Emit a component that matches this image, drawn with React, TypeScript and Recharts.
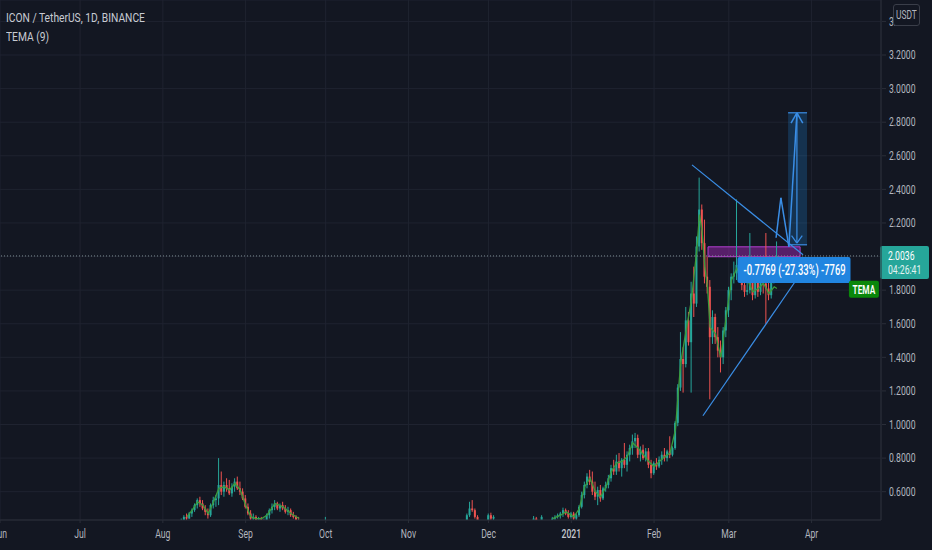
import React from 'react';
import {
  ComposedChart, Bar, Line, XAxis, YAxis, CartesianGrid,
  ReferenceLine, ReferenceArea, ReferenceDot,
} from 'recharts';

// day index: 0 = 2020-06-01
const days = [
  68, 69, 70, 71, 72, 73, 74, 75, 76, 77, 78, 79, 80, 81, 82, 83, 84, 85, 86, 87, 88, 89, 90, 91, 92, 93, 94, 95, 96, 97, 98, 99, 100, 101, 102, 103, 104, 105, 106, 107, 108, 109, 110, 111, 112, 113,
  122, 175, 176, 177, 178, 179, 183, 184, 185, 200, 201, 203,
  207, 208, 209, 210, 211, 212, 213, 214, 215, 216, 217, 218, 219, 220, 221, 222, 223, 224, 225, 226, 227, 228, 229, 230, 231, 232, 233, 234, 235, 236, 237, 238, 239, 240, 241, 242, 243, 244, 245, 246, 247, 248, 249, 250,
  251, 252, 253, 254, 255, 256, 257, 258, 259, 260, 261, 262, 263, 264, 265, 266, 267, 268, 269, 270, 271, 272, 273, 274, 275, 276, 277, 278, 279, 280, 281, 282, 283, 284, 285, 286, 287, 288, 289, 290, 291,
];
const opens = [
  0.41, 0.43, 0.45, 0.44, 0.47, 0.49, 0.52, 0.55, 0.53, 0.50, 0.48, 0.46, 0.52, 0.55, 0.56, 0.64, 0.60, 0.64, 0.62, 0.59, 0.63, 0.66, 0.62, 0.60, 0.56, 0.51, 0.47, 0.44, 0.45, 0.42, 0.44, 0.41, 0.43, 0.46, 0.49, 0.51, 0.53, 0.50, 0.52, 0.50, 0.48, 0.49, 0.46, 0.45, 0.43, 0.42,
  0.41, 0.42, 0.46, 0.50, 0.49, 0.45, 0.43, 0.46, 0.44, 0.42, 0.44, 0.42,
  0.42, 0.44, 0.45, 0.46, 0.47, 0.49, 0.47, 0.45, 0.47, 0.44, 0.46, 0.51, 0.58, 0.64, 0.69, 0.66, 0.60, 0.57, 0.61, 0.56, 0.62, 0.64, 0.68, 0.74, 0.72, 0.78, 0.74, 0.79, 0.76, 0.82, 0.86, 0.90, 0.92, 0.82, 0.85, 0.80, 0.84, 0.76, 0.71, 0.77, 0.75, 0.79, 0.82, 0.80,
  0.84, 0.82, 0.86, 1.01, 1.22, 1.39, 1.36, 1.62, 1.49, 1.78, 1.72, 2.06, 2.28, 2.08, 1.88, 1.82, 1.52, 1.64, 1.52, 1.44, 1.40, 1.56, 1.68, 1.80, 1.88, 1.90, 1.95, 1.89, 1.83, 1.79, 1.80, 1.90, 1.77, 1.88, 1.79, 1.86, 1.84, 1.81, 1.77, 1.89, 1.90,
];
const highs = [
  0.44, 0.46, 0.47, 0.48, 0.50, 0.53, 0.56, 0.57, 0.55, 0.52, 0.50, 0.53, 0.57, 0.58, 0.80, 0.72, 0.66, 0.68, 0.67, 0.65, 0.68, 0.69, 0.66, 0.62, 0.58, 0.53, 0.49, 0.47, 0.46, 0.45, 0.45, 0.44, 0.47, 0.50, 0.53, 0.55, 0.54, 0.53, 0.54, 0.52, 0.51, 0.50, 0.48, 0.46, 0.45, 0.43,
  0.45, 0.47, 0.54, 0.55, 0.50, 0.46, 0.47, 0.475, 0.46, 0.455, 0.45, 0.46,
  0.45, 0.46, 0.47, 0.48, 0.505, 0.50, 0.49, 0.48, 0.48, 0.47, 0.52, 0.60, 0.66, 0.71, 0.73, 0.72, 0.66, 0.63, 0.64, 0.63, 0.66, 0.70, 0.76, 0.79, 0.82, 0.83, 0.80, 0.89, 0.84, 0.88, 0.94, 0.95, 0.94, 0.87, 0.88, 0.86, 0.86, 0.79, 0.78, 0.80, 0.81, 0.84, 0.86, 0.85,
  0.93, 0.87, 1.02, 1.24, 1.55, 1.46, 1.70, 1.67, 1.85, 1.94, 2.12, 2.47, 2.31, 2.22, 2.00, 1.86, 1.68, 1.66, 1.58, 1.50, 1.58, 1.70, 1.82, 1.90, 1.97, 2.34, 1.98, 1.99, 1.90, 1.93, 2.14, 1.92, 1.92, 1.93, 1.90, 1.95, 2.14, 1.86, 1.92, 1.95, 2.09,
];
const lows = [
  0.40, 0.42, 0.43, 0.44, 0.45, 0.48, 0.50, 0.51, 0.49, 0.46, 0.44, 0.45, 0.50, 0.51, 0.52, 0.58, 0.57, 0.60, 0.58, 0.57, 0.60, 0.61, 0.58, 0.55, 0.50, 0.46, 0.43, 0.42, 0.41, 0.41, 0.40, 0.40, 0.42, 0.44, 0.47, 0.49, 0.49, 0.48, 0.49, 0.47, 0.46, 0.45, 0.44, 0.42, 0.41, 0.40,
  0.40, 0.41, 0.45, 0.48, 0.44, 0.42, 0.42, 0.43, 0.42, 0.41, 0.42, 0.41,
  0.41, 0.43, 0.44, 0.44, 0.45, 0.46, 0.44, 0.44, 0.43, 0.43, 0.45, 0.50, 0.56, 0.62, 0.64, 0.58, 0.55, 0.52, 0.54, 0.55, 0.60, 0.62, 0.66, 0.70, 0.70, 0.72, 0.69, 0.74, 0.72, 0.78, 0.82, 0.86, 0.80, 0.78, 0.79, 0.78, 0.74, 0.68, 0.70, 0.73, 0.74, 0.76, 0.78, 0.78,
  0.80, 0.81, 0.85, 0.99, 1.20, 1.19, 1.34, 1.47, 1.19, 1.64, 1.70, 2.03, 2.04, 1.84, 1.78, 1.15, 1.48, 1.48, 1.40, 1.31, 1.36, 1.52, 1.64, 1.74, 1.84, 1.86, 1.85, 1.80, 1.76, 1.77, 1.78, 1.74, 1.75, 1.76, 1.77, 1.78, 1.60, 1.74, 1.75, 1.84, 1.86,
];
const closes = [
  0.43, 0.45, 0.44, 0.47, 0.49, 0.52, 0.55, 0.53, 0.50, 0.48, 0.46, 0.52, 0.55, 0.56, 0.64, 0.60, 0.64, 0.62, 0.59, 0.63, 0.66, 0.62, 0.60, 0.56, 0.51, 0.47, 0.44, 0.45, 0.42, 0.44, 0.41, 0.43, 0.46, 0.49, 0.51, 0.53, 0.50, 0.52, 0.50, 0.48, 0.49, 0.46, 0.45, 0.43, 0.42, 0.41,
  0.42, 0.46, 0.50, 0.49, 0.45, 0.43, 0.46, 0.44, 0.45, 0.44, 0.43, 0.45,
  0.44, 0.45, 0.46, 0.47, 0.49, 0.47, 0.45, 0.47, 0.44, 0.46, 0.51, 0.58, 0.64, 0.69, 0.66, 0.60, 0.57, 0.61, 0.56, 0.62, 0.64, 0.68, 0.74, 0.72, 0.78, 0.74, 0.79, 0.76, 0.82, 0.86, 0.90, 0.92, 0.82, 0.85, 0.80, 0.84, 0.76, 0.71, 0.77, 0.75, 0.79, 0.82, 0.80, 0.84,
  0.82, 0.86, 1.01, 1.22, 1.39, 1.36, 1.62, 1.49, 1.78, 1.72, 2.06, 2.28, 2.08, 1.88, 1.82, 1.52, 1.64, 1.52, 1.44, 1.40, 1.56, 1.68, 1.80, 1.88, 1.90, 1.95, 1.89, 1.83, 1.79, 1.80, 1.90, 1.77, 1.88, 1.79, 1.86, 1.84, 1.81, 1.77, 1.89, 1.90, 2.0036,
];

// TEMA(9)
const temaADays = [70, 72, 74, 76, 78, 80, 82, 84, 86, 88, 90, 92, 94, 96, 98, 100, 103, 106, 109, 112];
const temaAVals = [0.45, 0.49, 0.54, 0.52, 0.47, 0.54, 0.62, 0.63, 0.61, 0.65, 0.61, 0.52, 0.45, 0.44, 0.44, 0.46, 0.53, 0.51, 0.47, 0.44];
const temaCDays = [207, 210, 212, 215, 217, 219, 221, 223, 225, 227, 229, 231, 233, 235, 237, 239, 241, 243, 245, 247, 249, 251, 253, 254, 255, 257, 259, 261, 262, 263, 264, 265, 266, 268, 270, 272, 274, 276, 278, 280, 282, 284, 286, 288, 290, 291];
const temaCVals = [0.44, 0.46, 0.48, 0.45, 0.50, 0.63, 0.68, 0.60, 0.57, 0.63, 0.72, 0.77, 0.78, 0.81, 0.89, 0.86, 0.82, 0.78, 0.75, 0.78, 0.81, 0.83, 0.97, 1.18, 1.37, 1.56, 1.74, 2.04, 2.25, 2.15, 1.94, 1.82, 1.58, 1.54, 1.40, 1.64, 1.86, 1.93, 1.86, 1.86, 1.79, 1.81, 1.84, 1.78, 1.82, 1.81];

const monthTicks = [0, 30, 61, 92, 122, 153, 183, 214, 245, 273, 304];
const monthLabels = ['Jun', 'Jul', 'Aug', 'Sep', 'Oct', 'Nov', 'Dec', '2021', 'Feb', 'Mar', 'Apr'];
const priceTicks = [0.6, 0.8, 1.0, 1.2, 1.4, 1.6, 1.8, 2.0, 2.2, 2.4, 2.6, 2.8, 3.0, 3.2, 3.4];
const lastPrice = 2.0036;
const lastTema = 1.805;

// drawings (day, price)
const upperTrend = [{ x: 259.2, y: 2.546 }, { x: 300.8, y: 2.011 }];
const lowerTrend = [{ x: 263.3, y: 1.052 }, { x: 297.8, y: 1.85 }];
const pathDays = [290.7, 292.5, 295.5, 298.5];
const pathPrices = [2.112, 2.35, 2.058, 2.855];
const purpleBox = { x1: 265.2, x2: 299.7, y1: 1.999, y2: 2.058 };
const measureBox = { x1: 295.2, x2: 302.3, y1: 2.07, y2: 2.856 };
const measureText = '-0.7769 (-27.33%) -7769';

const GREEN = '#26a69a';
const RED = '#ef5350';
const BLUE = '#3a8ee6';
const BG = '#131722';
const GRID = '#1f2330';
const TXT = '#b2b5be';
const FONT = "Roboto, 'Noto Sans', sans-serif";
const SX = 0.72; // horizontal squeeze of the reference's lettering

const rowsMap = new Map<number, any>();
days.forEach((d, i) => {
  rowsMap.set(d, { day: d, open: opens[i], high: highs[i], low: lows[i], close: closes[i] });
});
temaADays.forEach((d, i) => { const r = rowsMap.get(d) || { day: d }; r.temaA = temaAVals[i]; rowsMap.set(d, r); });
temaCDays.forEach((d, i) => { const r = rowsMap.get(d) || { day: d }; r.temaC = temaCVals[i]; rowsMap.set(d, r); });
const data = Array.from(rowsMap.values()).sort((a, b) => a.day - b.day);

const SqText = ({ x, y, children, anchor = 'start', size = 12, fill = TXT, weight = 400, sx = SX }: any) => (
  <text transform={`translate(${x},${y}) scale(${sx},1)`} textAnchor={anchor} fontSize={size} fill={fill} fontWeight={weight} fontFamily={FONT}>
    {children}
  </text>
);

const CandleShape = (props: any) => {
  const { x, y, width, height, payload } = props;
  if (!payload || payload.high == null) return null;
  const { open, close, high, low } = payload;
  const top = Math.min(y, y + height);
  const h = Math.abs(height);
  const ppu = h / (high - low || 1);
  const cx = x + width / 2;
  const bodyTop = top + (high - Math.max(open, close)) * ppu;
  const bodyH = Math.max(1, Math.abs(open - close) * ppu);
  const color = close >= open ? GREEN : RED;
  return (
    <g>
      <line x1={cx} x2={cx} y1={top} y2={top + h} stroke={color} strokeWidth={1} />
      <rect x={x} y={bodyTop} width={width} height={bodyH} fill={color} />
    </g>
  );
};

const PriceTag = (p: any) => {
  const vb = p.viewBox;
  if (!vb) return null;
  const x0 = vb.x + vb.width;
  const yy = vb.y;
  return (
    <g>
      <rect x={x0 - 1} y={yy - 10} width={49} height={33} fill={GREEN} rx={2} />
      <SqText x={x0 + 7} y={yy + 4} size={12} fill="#ffffff">{lastPrice.toFixed(4)}</SqText>
      <SqText x={x0 + 7} y={yy + 18} size={12} fill="#e3f4f2">04:26:41</SqText>
    </g>
  );
};

const TemaTag = (p: any) => {
  const { cx, cy } = p;
  return (
    <g>
      <rect x={cx - 15} y={cy - 8.5} width={30} height={17} fill="#0a870a" rx={2} />
      <SqText x={cx} y={cy + 4.5} anchor="middle" size={13} weight={600} fill="#ffffff" sx={0.64}>TEMA</SqText>
    </g>
  );
};

const MeasureTag = (p: any) => {
  const { cx, cy } = p;
  return (
    <g>
      <rect x={cx - 57} y={cy - 13} width={113} height={26} fill="#2185e0" rx={2} />
      <SqText x={cx} y={cy + 5} anchor="middle" size={14} weight={500} fill="#ffffff" sx={0.67}>{measureText}</SqText>
    </g>
  );
};

const YTick = (p: any) => {
  const { x, y, payload } = p;
  if (Math.abs(payload.value - 2.0) < 1e-6) return null;
  return (
    <g>
      <line x1={x - 7} x2={x - 3} y1={y} y2={y} stroke="#2a2e39" />
      <SqText x={x} y={y + 4.3} size={12}>{payload.value.toFixed(4)}</SqText>
    </g>
  );
};

const XTick = (p: any) => {
  const { x, y, payload } = p;
  const label = monthLabels[monthTicks.indexOf(payload.value)] ?? '';
  return (
    <SqText x={x} y={y + 11} anchor="middle" size={12} fill={label === '2021' ? '#c3c6ce' : TXT} weight={label === '2021' ? 500 : 400}>{label}</SqText>
  );
};

export default function App() {
  const segs: any[] = [];
  for (let i = 0; i < pathDays.length - 1; i++) {
    segs.push([{ x: pathDays[i], y: pathPrices[i] }, { x: pathDays[i + 1], y: pathPrices[i + 1] }]);
  }
  const topX = pathDays[pathDays.length - 1];
  const topY = pathPrices[pathPrices.length - 1];
  const arrowTop = [
    [{ x: topX, y: topY }, { x: topX - 2.2, y: topY - 0.06 }],
    [{ x: topX, y: topY }, { x: topX + 2.2, y: topY - 0.06 }],
  ];
  const arrowBottom = [
    [{ x: topX, y: measureBox.y1 + 0.01 }, { x: topX - 2, y: measureBox.y1 + 0.055 }],
    [{ x: topX, y: measureBox.y1 + 0.01 }, { x: topX + 2, y: measureBox.y1 + 0.055 }],
    [{ x: topX, y: measureBox.y1 + 0.01 }, { x: topX, y: topY }],
  ];
  const measureLines = [
    [{ x: measureBox.x1, y: measureBox.y2 }, { x: measureBox.x2, y: measureBox.y2 }],
    [{ x: measureBox.x1, y: measureBox.y1 }, { x: measureBox.x2, y: measureBox.y1 }],
  ];

  return (
    <div style={{ position: 'fixed', left: 0, top: 0, width: 932, height: 550, background: BG, overflow: 'hidden', fontFamily: FONT }}>
      <ComposedChart width={932} height={550} data={data} margin={{ top: 0, right: 0, bottom: 0, left: 0 }}>
        <CartesianGrid stroke={GRID} />
        <XAxis
          dataKey="day"
          type="number"
          domain={[0, 330]}
          allowDataOverflow
          ticks={monthTicks}
          interval={0}
          height={30}
          tick={<XTick />}
          tickSize={3}
          tickMargin={4}
          tickLine={{ stroke: '#2a2e39' }}
          axisLine={{ stroke: '#2a2e39' }}
        />
        <YAxis
          orientation="right"
          type="number"
          domain={[0.4315, 3.5275]}
          allowDataOverflow
          ticks={priceTicks}
          interval={0}
          width={51}
          tick={<YTick />}
          tickLine={false}
          axisLine={{ stroke: '#2a2e39' }}
        />
        <ReferenceLine y={lastPrice} stroke="#7d8c92" strokeDasharray="1 2" label={<PriceTag />} />
        <Bar dataKey={(r: any) => (r.high != null ? [r.low, r.high] : null)} barSize={2} shape={<CandleShape />} isAnimationActive={false} />
        <Line dataKey="temaA" stroke="#3c9b3c" strokeWidth={1.3} dot={false} activeDot={false} connectNulls isAnimationActive={false} />
        <Line dataKey="temaC" stroke="#3c9b3c" strokeWidth={1.3} dot={false} activeDot={false} connectNulls isAnimationActive={false} />
        <ReferenceArea {...purpleBox} fill="#9c27b0" fillOpacity={0.5} stroke="#b43fd0" strokeWidth={1} />
        <ReferenceArea {...measureBox} fill="#2196f3" fillOpacity={0.22} stroke="none" />
        {measureLines.map((s, i) => <ReferenceLine key={'m' + i} segment={s} stroke={BLUE} strokeWidth={1.2} />)}
        <ReferenceLine segment={upperTrend} stroke={BLUE} strokeWidth={1.2} />
        <ReferenceLine segment={lowerTrend} stroke={BLUE} strokeWidth={1.2} />
        {segs.map((s, i) => <ReferenceLine key={'p' + i} segment={s} stroke={BLUE} strokeWidth={1.5} />)}
        {arrowTop.map((s, i) => <ReferenceLine key={'a' + i} segment={s} stroke={BLUE} strokeWidth={1.5} />)}
        {arrowBottom.map((s, i) => <ReferenceLine key={'b' + i} segment={s} stroke={BLUE} strokeWidth={1.2} />)}
        <ReferenceDot x={297.6} y={1.92} r={0} shape={<MeasureTag />} />
        <ReferenceDot x={323.6} y={lastTema} r={0} shape={<TemaTag />} />
      </ComposedChart>
      <div style={{ position: 'absolute', left: 6, top: 9, color: '#c8cbd3', fontSize: 13.5, whiteSpace: 'nowrap', transform: 'scaleX(0.76)', transformOrigin: 'left top' }}>ICON / TetherUS, 1D, BINANCE</div>
      <div style={{ position: 'absolute', left: 6, top: 28, color: '#c8cbd3', fontSize: 13.5, whiteSpace: 'nowrap', transform: 'scaleX(0.76)', transformOrigin: 'left top' }}>TEMA (9)</div>
      <div style={{ position: 'absolute', left: 893, top: 4, width: 25, height: 20, border: '1px solid #3a3e49', borderRadius: 3, background: BG }}>
        <div style={{ color: TXT, fontSize: 12, lineHeight: '20px', whiteSpace: 'nowrap', transform: 'scaleX(0.7)', transformOrigin: 'left top', marginLeft: 2 }}>USDT</div>
      </div>
    </div>
  );
}
